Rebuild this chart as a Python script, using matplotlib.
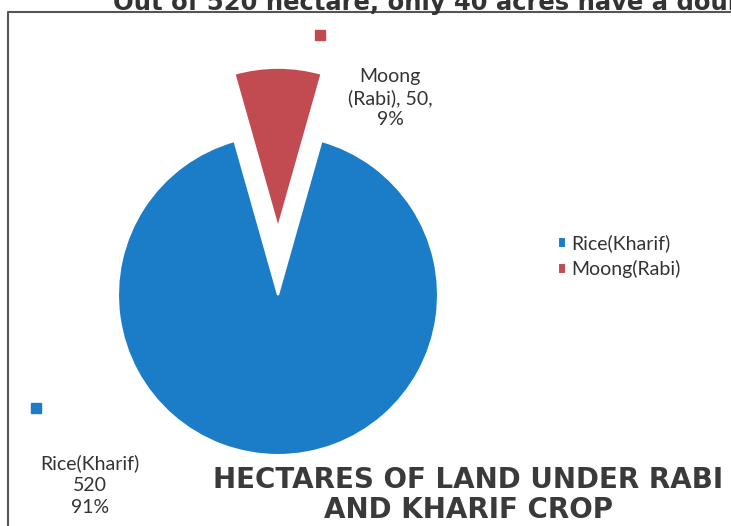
import numpy as np
import matplotlib.pyplot as plt

# crop area in hectares
crops = ["Rice(Kharif)", "Moong(Rabi)"]
hectares = [520, 50]
colors = ["#1b7dc8", "#c24a51"]

W, H = 731, 526
plt.rcParams['font.family'] = ['Lato', 'DejaVu Sans']
fig = plt.figure(figsize=(W / 100, H / 100), dpi=100)
ax = fig.add_axes([0, 0, 1, 1])

share = np.array(hectares) / sum(hectares)
half = share[1] * 180.0
r = 160
wedges, _ = ax.pie(hectares, colors=colors, center=(278, H - 295), radius=r,
                   startangle=90 - half, counterclock=False,
                   explode=[0, 0.42 * r], frame=True,
                   wedgeprops=dict(edgecolor="white", linewidth=1.5))
ax.set_xlim(0, W)
ax.set_ylim(0, H)
ax.set_aspect("equal")
ax.axis("off")

txt = "#333333"
pct = [f"{round(p * 100)}%" for p in share]

# data labels with their little legend keys
ax.plot(320, H - 35, "s", color=colors[1], ms=7)
ax.text(390, H - 98, f"Moong\n(Rabi), {hectares[1]},\n{pct[1]}", ha="center", va="center",
        fontsize=14, color=txt, linespacing=1.3)
ax.plot(36, H - 408, "s", color=colors[0], ms=7)
ax.text(90, H - 485, f"Rice(Kharif)\n{hectares[0]}\n{pct[0]}", ha="center", va="center",
        fontsize=14, color=txt, linespacing=1.35)

ax.legend(wedges, crops, loc="upper left", bbox_to_anchor=(540, H - 217),
          bbox_transform=ax.transData, frameon=False, fontsize=14,
          handlelength=0.45, handleheight=0.45, handletextpad=0.25,
          labelspacing=0.4, labelcolor=txt)

ax.text(468, H - 495, "HECTARES OF LAND UNDER RABI\nAND KHARIF CROP", ha="center",
        va="center", fontsize=20, fontweight="bold", family="DejaVu Sans",
        color="#3a3a3a", linespacing=1.05)

# chart border (runs off the right and bottom)
ax.plot([8, 8, W + 5], [-5, H - 12, H - 12], color="#555555", lw=1.5)

# caption line above the chart, mostly cut off
ax.text(113, H - 10, "Out of 520 hectare, only 40 acres have a double", ha="left",
        va="baseline", fontsize=17.5, fontweight="bold", family="DejaVu Sans",
        color="#333333", clip_on=False)

fig.savefig("out.png", dpi=100)
